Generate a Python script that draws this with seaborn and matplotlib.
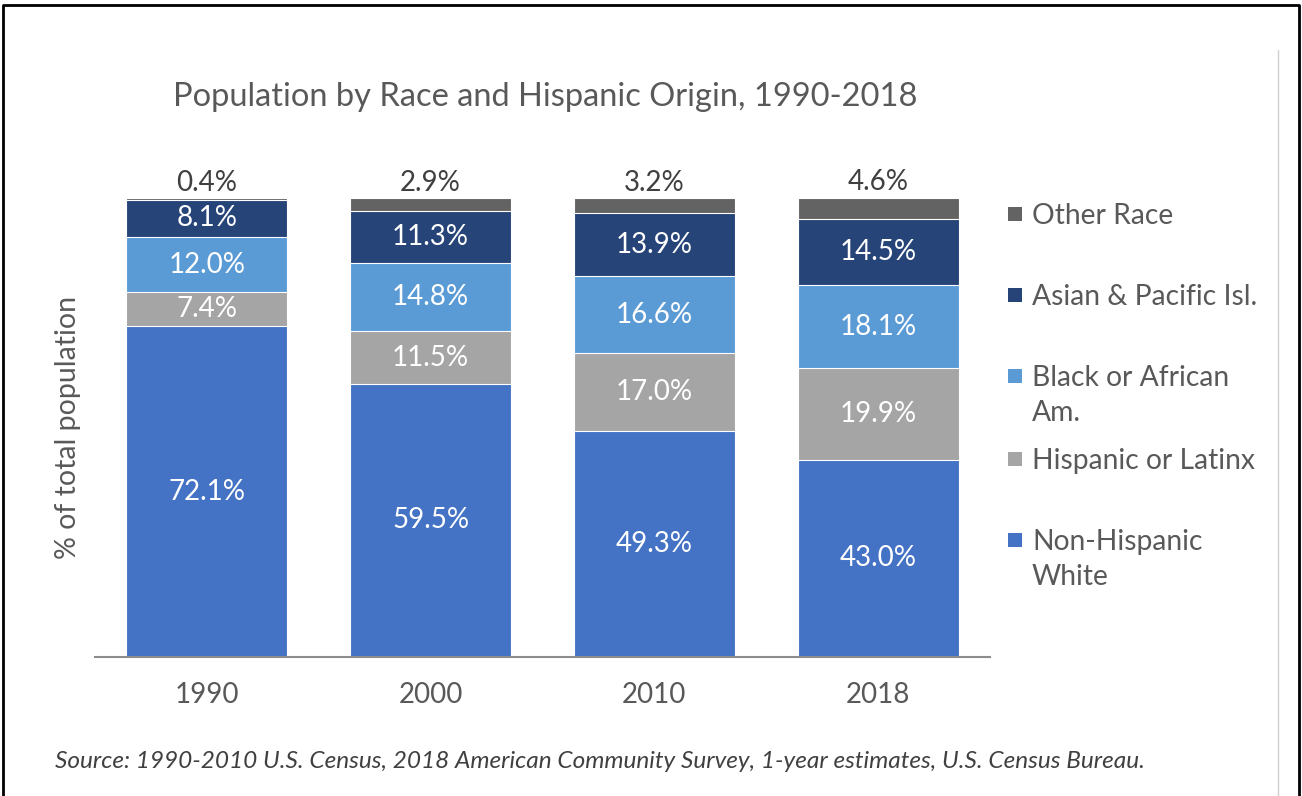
import matplotlib
matplotlib.use("Agg")
import matplotlib.pyplot as plt
import seaborn as sns
import pandas as pd
import numpy as np
from matplotlib.patches import Rectangle
from matplotlib.lines import Line2D

years = ["1990", "2000", "2010", "2018"]
categories = ["Non-Hispanic White", "Hispanic or Latinx", "Black or African Am.",
              "Asian & Pacific Isl.", "Other Race"]
legend_labels = ["Non-Hispanic\nWhite", "Hispanic or Latinx", "Black or African\nAm.",
                 "Asian & Pacific Isl.", "Other Race"]
non_hispanic_white = [72.1, 59.5, 49.3, 43.0]
hispanic_latinx = [7.4, 11.5, 17.0, 19.9]
black_african_am = [12.0, 14.8, 16.6, 18.1]
asian_pacific = [8.1, 11.3, 13.9, 14.5]
other_race = [0.4, 2.9, 3.2, 4.6]
colors = ["#4472C4", "#A5A5A5", "#5B9BD5", "#264478", "#636363"]

series = [non_hispanic_white, hispanic_latinx, black_african_am, asian_pacific, other_race]

sns.set_theme(style="white")
plt.rcParams["font.family"] = ["Lato", "DejaVu Sans"]
TXT = "#595959"
FS = 20

fig = plt.figure(figsize=(13.02, 7.96), dpi=100)
ax = fig.add_axes([95/1302, 1-657/796, (990-95)/1302, (657-198)/796])

# long-form cumulative data for stacked bars
rows = []
cum = np.zeros(len(years))
for cat, vals in zip(categories, series):
    bottom = cum.copy()
    cum = cum + np.array(vals)
    for y, v, b, t in zip(years, vals, bottom, cum):
        rows.append({"year": y, "category": cat, "value": v, "bottom": b, "top": t})
df = pd.DataFrame(rows)

# draw from tallest cumulative to smallest (overdraw)
for cat, col in reversed(list(zip(categories, colors))):
    sub = df[df["category"] == cat]
    sns.barplot(data=sub, x="year", y="top", color=col, width=0.72,
                edgecolor="white", linewidth=0.8, ax=ax, saturation=1, order=years)

ax.set_xlim(-0.5, 3.5)
ax.set_ylim(0, 100)
ax.set_yticks([])
ax.set_xlabel("")
ax.set_ylabel("% of total population", fontsize=20.5, color=TXT, labelpad=10)
ax.tick_params(axis="x", length=0, labelsize=FS, labelcolor=TXT, pad=18)
for s in ["top", "right", "left"]:
    ax.spines[s].set_visible(False)
ax.spines["bottom"].set_color("#8C8C8C")
ax.spines["bottom"].set_linewidth(1.5)
ax.spines["bottom"].set_bounds(-0.5, 3.5)

# data labels
for i, r in df.iterrows():
    xi = years.index(r["year"])
    if r["category"] == "Other Race":
        ax.text(xi, r["top"] + 3.3, f"{r['value']:.1f}%", ha="center", va="center",
                fontsize=FS, color="#404040", clip_on=False)
    else:
        ax.text(xi, (r["bottom"] + r["top"]) / 2, f"{r['value']:.1f}%", ha="center",
                va="center", fontsize=FS, color="white")

# title
fig.text(545/1302, 1-97/796, "Population by Race and Hispanic Origin, 1990-2018",
         ha="center", va="center", fontsize=23.5, color=TXT)

# legend (manual, Excel-like)
leg_y = [540, 459, 376, 295, 214]
for lab, col, yy in zip(legend_labels, colors, leg_y):
    fig.patches.append(Rectangle((1008/1302, 1-(yy+7)/796), 14/1302, 14/796,
                                 transform=fig.transFigure, facecolor=col,
                                 edgecolor="none"))
    fig.text(1032/1302, 1-(yy-11)/796, lab, ha="left", va="top", fontsize=20.3,
             color=TXT, linespacing=1.45)

# source
fig.text(55/1302, 1-762/796,
         "Source: 1990-2010 U.S. Census, 2018 American Community Survey, 1-year estimates, U.S. Census Bureau.",
         ha="left", va="center", fontsize=17.6, style="italic", color="#404040")

# frame and divider
fig.lines.append(Line2D([3/1302, 3/1302, 1299/1302, 1299/1302], [0, 1-5/796, 1-5/796, 0],
                        transform=fig.transFigure, color="black", lw=2))
fig.lines.append(Line2D([1278/1302, 1278/1302], [0, 1-50/796],
                        transform=fig.transFigure, color="#D0D0D0", lw=1))

fig.savefig("out.png", dpi=100)
